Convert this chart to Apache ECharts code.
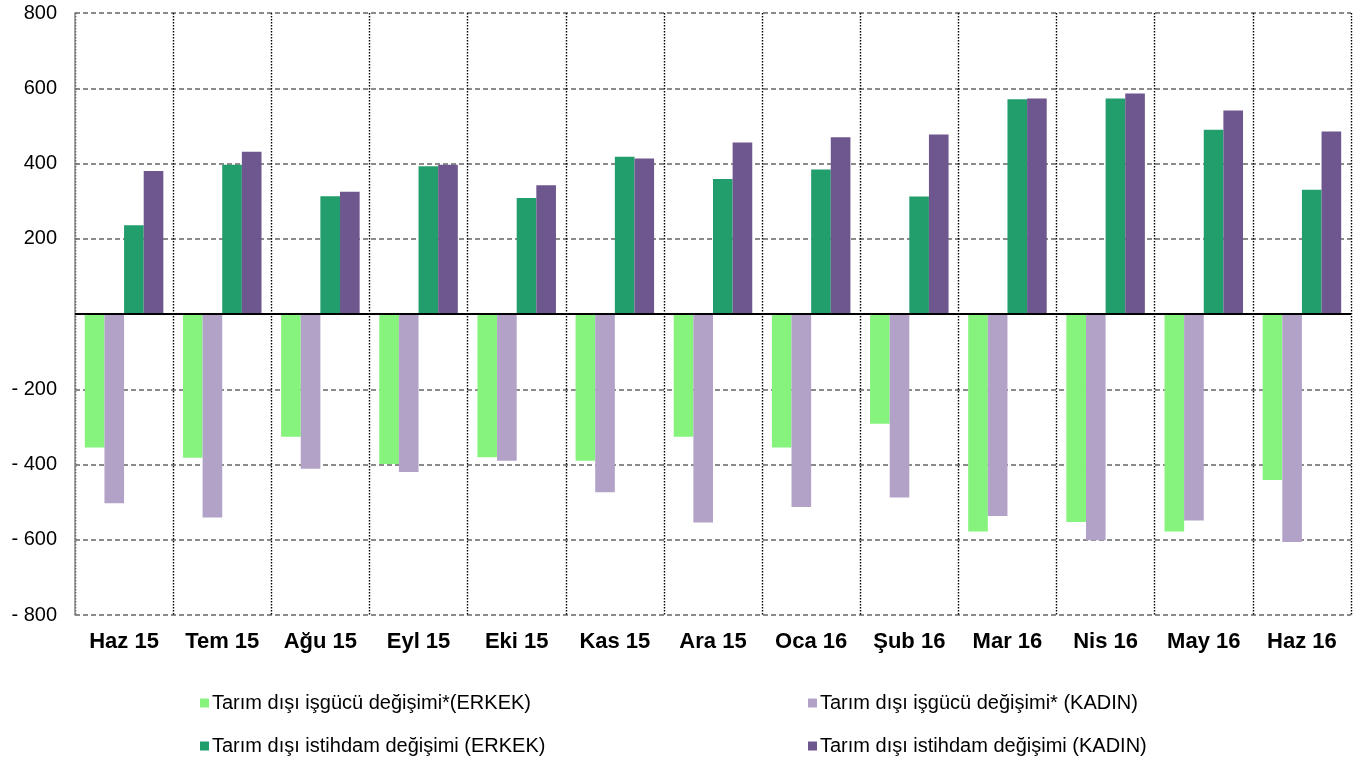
<!DOCTYPE html>
<html>
<head>
<meta charset="utf-8">
<script src="https://cdn.jsdelivr.net/npm/echarts@6/dist/echarts.min.js"></script>
<style>
html,body{margin:0;padding:0;background:#fff;}
#c{width:1360px;height:765px;}
</style>
</head>
<body>
<div id="c"></div>
<script>
var categories = ['Haz 15','Tem 15','Ağu 15','Eyl 15','Eki 15','Kas 15','Ara 15','Oca 16','Şub 16','Mar 16','Nis 16','May 16','Haz 16'];
var seriesNames = [
  'Tarım dışı işgücü değişimi*(ERKEK)',
  'Tarım dışı işgücü değişimi* (KADIN)',
  'Tarım dışı istihdam değişimi (ERKEK)',
  'Tarım dışı istihdam değişimi (KADIN)'
];
var isgucuErkek  = [-355,-382,-326,-399,-381,-390,-326,-355,-292,-578,-553,-578,-441];
var isgucuKadin  = [-503,-541,-411,-420,-390,-474,-554,-513,-488,-537,-601,-549,-606];
var istihdamErkek = [236,397,313,393,308,418,359,384,312,571,573,490,330];
var istihdamKadin = [380,431,325,397,342,413,456,470,477,573,586,541,485];
var yTicks = {min:-800, max:800, interval:200};

var colors = ['#86F37D','#B2A2C8','#219E6C','#6E568E'];
var font = 'Liberation Sans, Arial, sans-serif';

var chart = echarts.init(document.getElementById('c'), null, {renderer:'canvas'});

function bar(i, data){
  return {
    name: seriesNames[i],
    type: 'bar',
    data: data,
    barGap: '0%',
    barCategoryGap: '20%',
    itemStyle: {color: colors[i]},
    emphasis: {disabled: true},
    z: 3
  };
}

var s0 = bar(0, isgucuErkek);
s0.markLine = {
  silent: true,
  symbol: ['none','none'],
  label: {show:false},
  lineStyle: {color:'#000', width:2, type:'solid'},
  data: [{yAxis: 0}],
  z: 5
};

function leg(name, left, top){
  return {
    data: [{name: name, icon: 'rect'}],
    left: left, top: top,
    orient: 'horizontal',
    itemWidth: 9, itemHeight: 9,
    selectedMode: false,
    padding: 0,
    textStyle: {fontFamily: font, fontSize: 20, color: '#000', padding:[0,0,0,-2]}
  };
}

chart.setOption({
  animation: false,
  backgroundColor: '#fff',
  grid: {left: 75, right: 9, top: 13, bottom: 150, containLabel: false},
  legend: [
    leg(seriesNames[0], 200, 693),
    leg(seriesNames[2], 200, 736),
    leg(seriesNames[1], 808, 693),
    leg(seriesNames[3], 808, 736)
  ],
  xAxis: {
    type: 'category',
    data: categories,
    position: 'bottom',
    axisLine: {show: false, onZero: false},
    axisTick: {show: false},
    axisLabel: {fontFamily: font, fontSize: 22, fontWeight: 'bold', color: '#000', margin: 16, interval: 0},
    splitLine: {show: true, interval: 0, lineStyle: {color: '#000', type: [1.5,1.5], width: 1.4}}
  },
  yAxis: {
    type: 'value',
    min: yTicks.min, max: yTicks.max, interval: yTicks.interval,
    axisLine: {show: true, lineStyle: {color: '#8c8c8c', width: 1.5}},
    axisTick: {show: false},
    axisLabel: {
      fontFamily: font, fontSize: 20, color: '#000', margin: 18,
      formatter: function(v){ if (v === 0) return ''; return v < 0 ? '- ' + Math.abs(v) : String(v); }
    },
    splitLine: {show: true, lineStyle: {color: '#666', type: [5,3], width: 1.5}}
  },
  series: [s0, bar(1, isgucuKadin), bar(2, istihdamErkek), bar(3, istihdamKadin)]
});
</script>
</body>
</html>
